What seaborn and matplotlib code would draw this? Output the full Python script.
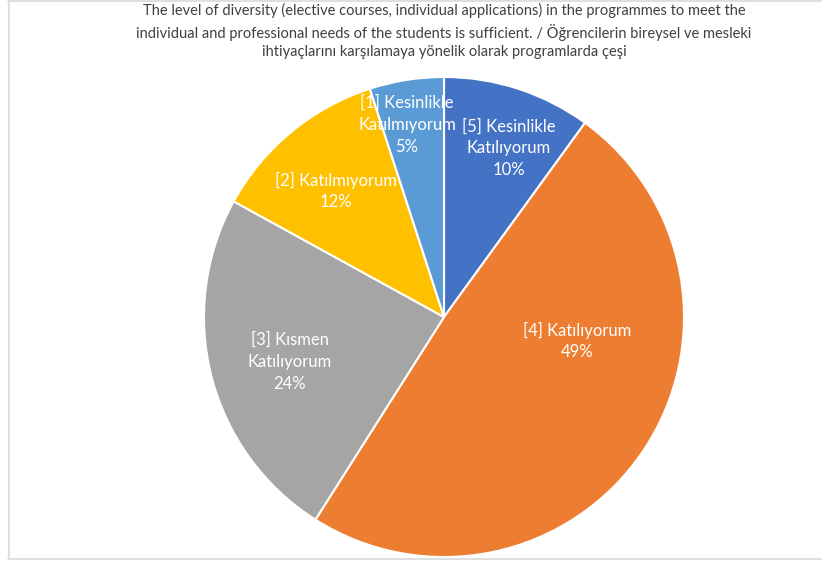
import matplotlib
matplotlib.use("Agg")
import matplotlib.pyplot as plt
import seaborn as sns
from matplotlib.lines import Line2D

sns.set_theme(style="white")
plt.rcParams['font.family'] = ['Lato', 'DejaVu Sans']

# data (clockwise from 12 o'clock)
categories = ['[5] Kesinlikle\nKatılıyorum', '[4] Katılıyorum', '[3] Kısmen\nKatılıyorum',
              '[2] Katılmıyorum', '[1] Kesinlikle\nKatılmıyorum']
percent = [10, 49, 24, 12, 5]
colors = ['#4472C4', '#ED7D31', '#A5A5A5', '#FFC000', '#5B9BD5']
title = ("The level of diversity (elective courses, individual applications) in the programmes to meet the\n"
         "individual and professional needs of the students is sufficient. / Öğrencilerin bireysel ve mesleki\n"
         "ihtiyaçlarını karşılamaya yönelik olarak programlarda çeşi")

# label placement (pie radius units), like excel best fit
label_pos = [(0.271, 0.704), (0.554, -0.10), (-0.642, -0.1875), (-0.45, 0.525), (-0.154, 0.80)]

W, H = 822, 561
fig = plt.figure(figsize=(W / 100, H / 100), dpi=100)
cx, cy, r = 444, 317, 240
ax = fig.add_axes([(cx - r) / W, (H - cy - r) / H, 2 * r / W, 2 * r / H])

wedges, _ = ax.pie(percent, colors=colors, startangle=90, counterclock=False, radius=1,
                   wedgeprops=dict(edgecolor='white', linewidth=1.5))
ax.set_xlim(-1, 1)
ax.set_ylim(-1, 1)
ax.set_aspect('equal')
ax.axis('off')

for lab, p, (x, y) in zip(categories, percent, label_pos):
    ax.text(x, y, f"{lab}\n{p}%", ha='center', va='center', color='white',
            fontsize=12, linespacing=1.45)

fig.text(cx / W, 1 - 31 / H, title, ha='center', va='center', fontsize=10.5,
         color='#404040', linespacing=1.4)

# chart border
bc = '#D9D9D9'
fig.add_artist(Line2D([8.5 / W, 8.5 / W], [1, 1 - 558 / H], color=bc, lw=1.2, transform=fig.transFigure))
fig.add_artist(Line2D([8 / W, 1], [1 - 558.5 / H, 1 - 558.5 / H], color=bc, lw=1.2, transform=fig.transFigure))
fig.add_artist(Line2D([8 / W, 1], [1 - 0.5 / H, 1 - 0.5 / H], color=bc, lw=1.2, transform=fig.transFigure))

fig.savefig('out.png', dpi=100, facecolor='white')
